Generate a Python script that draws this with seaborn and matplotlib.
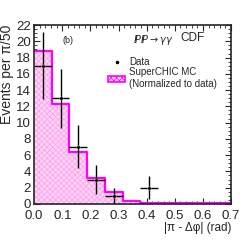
import numpy as np
import pandas as pd
import seaborn as sns
import matplotlib.pyplot as plt
from matplotlib.patches import Patch
from matplotlib.lines import Line2D
from matplotlib.ticker import MultipleLocator

# bin width pi/50
bin_w = np.pi / 50
n_bins = 12
edges = list(np.arange(n_bins + 1) * bin_w)
centers = np.array(edges[:-1]) + bin_w / 2

# SuperCHIC MC (normalised to data)
mc_vals = [18.8, 12.3, 6.35, 3.2, 1.5, 0.4, 0.12, 0.05, 0.05, 0.05, 0.05, 0.05]

# CDF data
data_bin = [0, 1, 2, 3, 4, 6]
data_vals = [17, 13, 7, 3, 1, 2]

sns.set_style("ticks")
plt.rcParams['font.family'] = ['Liberation Sans', 'DejaVu Sans']
plt.rcParams['hatch.color'] = '#ff9ceb'
plt.rcParams['hatch.linewidth'] = 0.5

fill_col = '#fcd4f6'

fig = plt.figure(figsize=(2.49, 2.41), dpi=100)
ax = fig.add_axes([0.137, 0.154, 0.791, 0.742])

df_mc = pd.DataFrame({'x': centers, 'w': mc_vals})
sns.histplot(data=df_mc, x='x', weights='w', bins=edges, element='step',
             fill=True, color=fill_col, alpha=1, linewidth=0, ax=ax)
for c in ax.collections:
    c.set_hatch('xxxxxx')
    c.set_edgecolor('#ff9ceb')
    c.set_linewidth(0)
sns.histplot(data=df_mc, x='x', weights='w', bins=edges, element='step',
             fill=False, color='#ff00ff', linewidth=1.6, ax=ax)

df_d = pd.DataFrame({'x': centers[data_bin], 'y': data_vals})
ax.errorbar(df_d['x'], df_d['y'], xerr=bin_w / 2, yerr=np.sqrt(df_d['y']),
            fmt='none', ecolor='black', elinewidth=1.0)
sns.scatterplot(data=df_d, x='x', y='y', color='black', s=6, ax=ax, zorder=5)

ax.set_xlim(0, 0.7)
ax.set_ylim(0, 22)
ax.xaxis.set_major_locator(MultipleLocator(0.1))
ax.xaxis.set_minor_locator(MultipleLocator(0.02))
ax.yaxis.set_major_locator(MultipleLocator(2))
ax.yaxis.set_minor_locator(MultipleLocator(0.5))
ax.tick_params(which='both', direction='in', top=True, right=True, labelsize=9.5)
ax.tick_params(axis='x', pad=4.5)
ax.tick_params(axis='y', pad=2.5)
ax.tick_params(which='major', length=4, width=0.8)
ax.tick_params(which='minor', length=2, width=0.6)
for s in ax.spines.values():
    s.set_linewidth(1.2)

ax.set_xlabel('|π - Δφ| (rad)', fontsize=8.5, loc='right', labelpad=0)
ax.set_ylabel('Events per π/50', fontsize=10, loc='top', labelpad=1)

ax.text(0.145, 0.9, '(b)', transform=ax.transAxes, fontsize=6.5)
ax.text(0.5, 0.9, r'$I\!P I\!P \rightarrow \gamma\gamma$', transform=ax.transAxes,
        fontsize=7, family='DejaVu Serif')
ax.text(0.745, 0.91, 'CDF', transform=ax.transAxes, fontsize=8.5)

handles = [Line2D([], [], marker='.', color='black', linestyle='none', markersize=3),
           Patch(facecolor=fill_col, edgecolor='#ff00ff', hatch='xxxxxx', linewidth=1.2)]
ax.legend(handles, ['Data', 'SuperCHIC MC\n(Normalized to data)'], loc='upper left',
          bbox_to_anchor=(0.34, 0.86), frameon=False, fontsize=7, handlelength=1.8,
          handleheight=0.6, handletextpad=0.4, labelspacing=0.05, borderpad=0.2)

fig.savefig('out.png', dpi=100)
